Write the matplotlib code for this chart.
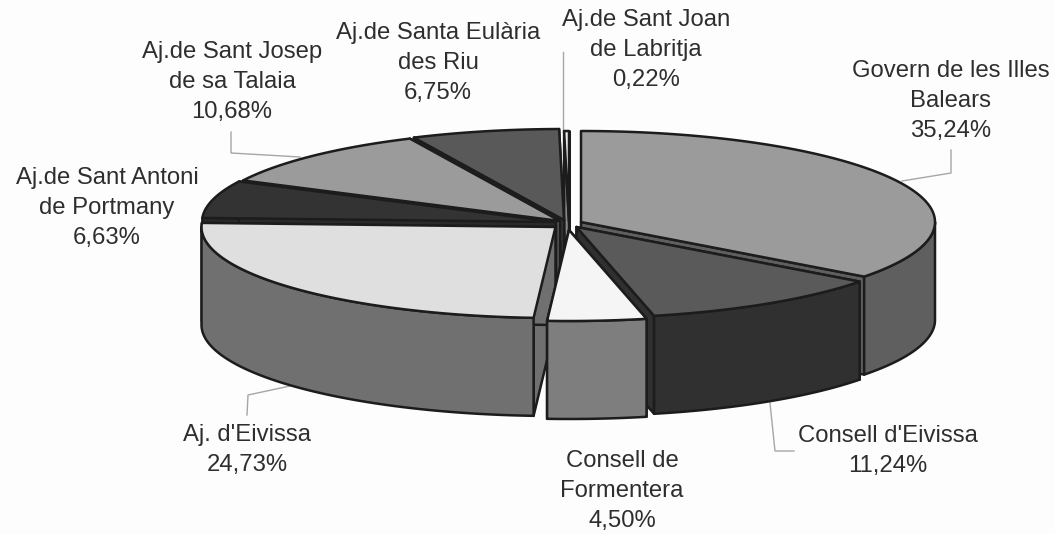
#!/usr/bin/env python3
"""3D exploded pie of shares per institution, drawn as projected polygons."""

import numpy as np
import matplotlib
matplotlib.use("Agg")
import matplotlib.pyplot as plt
from matplotlib.patches import Polygon

NAMES = ["Govern de les Illes\nBalears", "Consell d'Eivissa", "Consell de\nFormentera",
         "Aj. d'Eivissa", "Aj.de Sant Antoni\nde Portmany", "Aj.de Sant Josep\nde sa Talaia",
         "Aj.de Santa Eulària\ndes Riu", "Aj.de Sant Joan\nde Labritja"]
VALUES = [35.24, 11.24, 4.50, 24.73, 6.63, 10.68, 6.75, 0.22]
VALUE_LABELS = ["35,24%", "11,24%", "4,50%", "24,73%", "6,63%", "10,68%", "6,75%", "0,22%"]

TOP_COLORS = ["#9b9b9b", "#5a5a5a", "#f5f5f5", "#dfdfdf", "#333333", "#9b9b9b", "#595959", "#ececec"]
SIDE_COLORS = ["#5f5f5f", "#303030", "#7e7e7e", "#707070", "#2a2a2a", "#5f5f5f", "#3a3a3a", "#888888"]
# slice tip in pixels, this is the "explode" of each slice
APEX = [(581, 222), (576.5, 227), (569, 230), (555.5, 227), (556, 222), (560, 221), (564, 220), (569, 222)]
LABEL_POS = [(951, 101), (888, 451), (622, 491), (247, 450), (107, 208), (232, 82), (438, 63), (646, 50)]
DRAW_ORDER = [0, 7, 6, 5, 4, 3, 1, 2]

RX, RY = 354, 91
DEPTH = 98
EDGE = "#1c1c1c"
TEXT = "#2e2e2e"
LEADER = "#a6a6a6"

LEADERS = [
    ([951, 951, 902], [150, 173, 181]),
    ([563, 563], [52, 130]),
    ([231, 231, 300], [132, 153, 157]),
    ([247, 248, 290], [415, 395, 386]),
    ([770, 775, 794], [403, 451, 451]),
]

angles = np.concatenate([[0], np.cumsum(VALUES)]) / sum(VALUES) * 2 * np.pi


def rim(apex, t):
    return apex[0] + RX * np.sin(t), apex[1] - RY * np.cos(t)


def add_poly(ax, xs, ys, color, z):
    ax.add_patch(Polygon(np.column_stack([xs, ys]), closed=True, facecolor=color,
                         edgecolor=EDGE, linewidth=1.8, joinstyle="round", zorder=z))


def draw_slice(ax, i, z):
    apex = APEX[i]
    t0, t1 = angles[i], angles[i + 1]

    # radial cut walls
    for t in (t0, t1):
        rx, ry = rim(apex, t)
        add_poly(ax, [apex[0], rx, rx, apex[0]],
                 [apex[1], ry, ry + DEPTH, apex[1] + DEPTH], SIDE_COLORS[i], z)

    # outer wall, only the part facing the viewer
    lo, hi = max(t0, np.pi / 2), min(t1, 3 * np.pi / 2)
    if lo < hi:
        xs, ys = rim(apex, np.linspace(lo, hi, 80))
        add_poly(ax, np.r_[xs, xs[::-1]], np.r_[ys, ys[::-1] + DEPTH], SIDE_COLORS[i], z + 0.1)

    # top face
    xs, ys = rim(apex, np.linspace(t0, t1, 120))
    add_poly(ax, np.r_[apex[0], xs], np.r_[apex[1], ys], TOP_COLORS[i], z + 0.2)


def main():
    plt.rcParams["font.family"] = ["Liberation Sans", "DejaVu Sans"]
    fig = plt.figure(figsize=(10.55, 5.34), dpi=100, facecolor="#fdfdfd")
    ax = fig.add_axes([0, 0, 1, 1])
    ax.set_xlim(0, 1055)
    ax.set_ylim(534, 0)
    ax.axis("off")

    for xs, ys in LEADERS:
        ax.plot(xs, ys, color=LEADER, linewidth=1.0, zorder=1)

    for z, i in enumerate(DRAW_ORDER):
        draw_slice(ax, i, 2 + z)

    for name, val, (x, y) in zip(NAMES, VALUE_LABELS, LABEL_POS):
        ax.text(x, y, f"{name}\n{val}", ha="center", va="center", fontsize=17.2,
                color=TEXT, linespacing=1.47, zorder=20)

    fig.savefig("out.png", dpi=100, facecolor=fig.get_facecolor())
    plt.close(fig)


if __name__ == "__main__":
    main()
